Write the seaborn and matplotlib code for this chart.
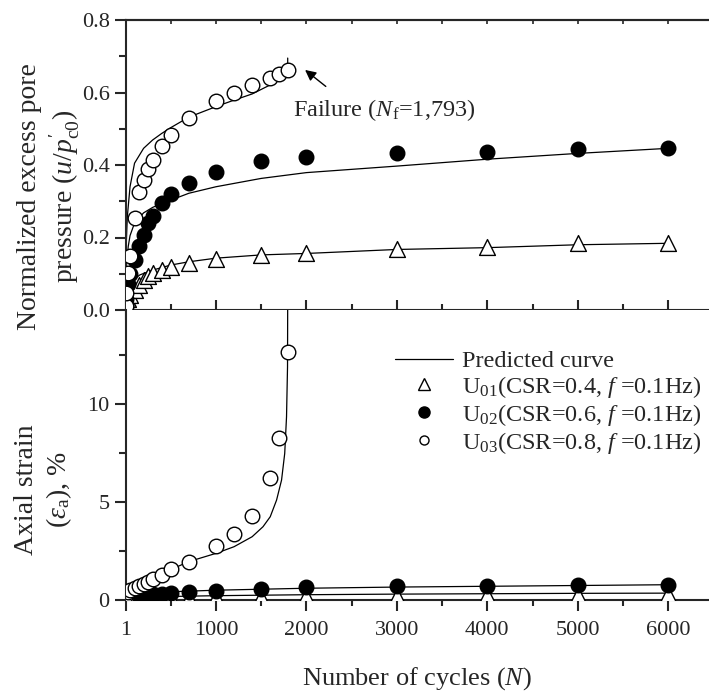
import matplotlib
matplotlib.use("Agg")
import matplotlib.pyplot as plt
import seaborn as sns
from matplotlib.lines import Line2D
from matplotlib.ticker import MultipleLocator, FixedLocator

# ---------------- data ----------------
n_u01 = [1, 10, 30, 50, 100, 150, 200, 250, 300, 400, 500, 700, 1000, 1500, 2000, 3000, 4000, 5000, 6000]
pp_u01 = [0.005, 0.015, 0.03, 0.041, 0.055, 0.069, 0.083, 0.094, 0.101, 0.110, 0.120, 0.129, 0.142,
          0.151, 0.156, 0.167, 0.175, 0.184, 0.186]
ea_u01 = [0.0, 0.01, 0.02, 0.03, 0.04, 0.05, 0.06, 0.07, 0.08, 0.09, 0.10, 0.12, 0.14, 0.17, 0.19,
          0.22, 0.25, 0.27, 0.29]

n_u02 = [1, 10, 30, 50, 100, 150, 200, 250, 300, 400, 500, 700, 1000, 1500, 2000, 3000, 4000, 5000, 6000]
pp_u02 = [0.01, 0.03, 0.072, 0.10, 0.138, 0.177, 0.207, 0.241, 0.259, 0.296, 0.319, 0.351, 0.382,
          0.412, 0.423, 0.434, 0.437, 0.444, 0.448]
ea_u02 = [0.01, 0.04, 0.08, 0.12, 0.18, 0.22, 0.25, 0.28, 0.30, 0.32, 0.34, 0.43, 0.47, 0.58, 0.65,
          0.71, 0.74, 0.77, 0.77]

n_u03 = [1, 10, 30, 50, 100, 150, 200, 250, 300, 400, 500, 700, 1000, 1200, 1400, 1600, 1700, 1793]
pp_u03 = [0.01, 0.048, 0.101, 0.149, 0.253, 0.326, 0.359, 0.389, 0.414, 0.452, 0.483, 0.530, 0.577,
          0.600, 0.621, 0.639, 0.651, 0.662]
ea_u03 = [0.05, 0.25, 0.40, 0.51, 0.63, 0.71, 0.82, 0.93, 1.08, 1.30, 1.56, 1.96, 2.76, 3.37, 4.29,
          6.21, 8.28, 12.64]

# predicted curves
pn_pp_u01 = [1, 10, 34, 86, 160, 300, 500, 700, 1000, 1500, 2000, 3000, 4000, 5000, 6000]
pv_pp_u01 = [0.0, 0.03, 0.055, 0.083, 0.097, 0.110, 0.124, 0.133, 0.143, 0.152, 0.156, 0.167, 0.172,
             0.180, 0.184]
pn_pp_u02 = [1, 5, 10, 30, 50, 100, 200, 300, 400, 500, 700, 1000, 1500, 2000, 3000, 4000, 5000, 6000]
pv_pp_u02 = [0.0, 0.08, 0.12, 0.175, 0.205, 0.24, 0.268, 0.283, 0.294, 0.303, 0.322, 0.340, 0.363,
             0.379, 0.397, 0.416, 0.432, 0.446]
pn_pp_u03 = [1, 3, 8, 20, 50, 100, 200, 300, 400, 500, 700, 1000, 1200, 1400, 1600, 1700, 1793, 1793]
pv_pp_u03 = [0.0, 0.10, 0.18, 0.257, 0.34, 0.405, 0.446, 0.469, 0.487, 0.503, 0.532, 0.561, 0.579,
             0.596, 0.621, 0.634, 0.648, 0.695]

pn_ea_u01 = [1, 10, 100, 200, 500, 1000, 2000, 3000, 4000, 5000, 6000]
pv_ea_u01 = [0.0, 0.04, 0.10, 0.13, 0.18, 0.22, 0.27, 0.30, 0.32, 0.34, 0.35]
pn_ea_u02 = [1, 10, 50, 100, 200, 500, 1000, 2000, 3000, 4000, 5000, 6000]
pv_ea_u02 = [0.0, 0.10, 0.20, 0.26, 0.33, 0.42, 0.50, 0.60, 0.66, 0.70, 0.74, 0.78]
pn_ea_u03 = [1, 10, 50, 100, 200, 300, 500, 700, 1000, 1200, 1400, 1520, 1600, 1670, 1725, 1760,
             1780, 1791, 1793]
pv_ea_u03 = [0.1, 0.35, 0.65, 0.85, 1.1, 1.28, 1.55, 1.96, 2.38, 2.72, 3.23, 3.74, 4.25, 5.1, 6.12,
             7.48, 9.35, 11.9, 15.5]

x_major = [1, 1000, 2000, 3000, 4000, 5000, 6000]
x_labels = ["1", "1000", "2000", "3000", "4000", "5000", "6000"]
x_minor = [500, 1500, 2500, 3500, 4500, 5500]

legend_labels = ["Predicted curve",
                 r"U$_{\mathrm{01}}$(CSR=0.4, $f$ =0.1Hz)",
                 r"U$_{\mathrm{02}}$(CSR=0.6, $f$ =0.1Hz)",
                 r"U$_{\mathrm{03}}$(CSR=0.8, $f$ =0.1Hz)"]

# ---------------- style ----------------
sns.set_style("ticks")
plt.rcParams["font.family"] = ["Liberation Serif", "DejaVu Serif"]
plt.rcParams["mathtext.fontset"] = "custom"
plt.rcParams["mathtext.rm"] = "Liberation Serif"
plt.rcParams["mathtext.it"] = "Liberation Serif:italic"
plt.rcParams["mathtext.bf"] = "Liberation Serif:bold"
plt.rcParams["axes.linewidth"] = 1.5

fig = plt.figure(figsize=(7.09, 6.95), dpi=100)
L = 125.5 / 709
W = 1.0 - L
H = 290 / 695
ax1 = fig.add_axes([L, 1 - 310 / 695, W, H])
ax2 = fig.add_axes([L, 1 - 600 / 695, W, H])

XMAX = 6450
LW = 0.9
MS_C = 110
MS_T = 130


def draw(ax, curves, pts):
    for xs, ys in curves:
        sns.lineplot(x=xs, y=ys, ax=ax, color="black", lw=LW, sort=False, estimator=None,
                     legend=False, zorder=2)
    for xs, ys, mk, fc, s in pts:
        sns.scatterplot(x=xs, y=ys, ax=ax, marker=mk, s=s, facecolor=fc, edgecolor="black",
                        linewidth=1.0, legend=False, zorder=3)


draw(ax1,
     [(pn_pp_u01, pv_pp_u01), (pn_pp_u02, pv_pp_u02), (pn_pp_u03, pv_pp_u03)],
     [(n_u01, pp_u01, "^", "white", MS_T), (n_u02, pp_u02, "o", "black", MS_C),
      (n_u03, pp_u03, "o", "white", MS_C)])
draw(ax2,
     [(pn_ea_u01, pv_ea_u01), (pn_ea_u02, pv_ea_u02), (pn_ea_u03, pv_ea_u03)],
     [(n_u01, ea_u01, "^", "white", MS_T), (n_u02, ea_u02, "o", "black", MS_C),
      (n_u03, ea_u03, "o", "white", MS_C)])

for ax in (ax1, ax2):
    ax.set_xlim(0, XMAX)
    ax.xaxis.set_major_locator(FixedLocator(x_major))
    ax.xaxis.set_minor_locator(FixedLocator(x_minor))
    ax.spines["right"].set_visible(False)
    ax.tick_params(axis="y", which="major", direction="out", length=8, width=1.5, labelsize=16,
                   left=True, right=False)
    ax.tick_params(axis="y", which="minor", direction="out", length=5, width=1.5, left=True,
                   right=False)
    ax.set_xlabel("")

ax1.set_ylim(0, 0.8)
ax1.yaxis.set_major_locator(MultipleLocator(0.2))
ax1.yaxis.set_minor_locator(MultipleLocator(0.1))
ax1.set_yticks([0.0, 0.2, 0.4, 0.6, 0.8])
ax1.set_yticklabels(["0.0", "0.2", "0.4", "0.6", "0.8"])
ax1.tick_params(axis="x", which="major", direction="inout", length=15, width=1.5,
                labelbottom=False, top=False)
ax1.tick_params(axis="x", which="minor", direction="inout", length=9, width=1.5, top=False)
sec = ax1.secondary_xaxis("top")
sec.xaxis.set_major_locator(FixedLocator(x_major[1:]))
sec.xaxis.set_minor_locator(FixedLocator(x_minor))
sec.tick_params(axis="x", which="both", direction="in", length=3, width=1.2, labeltop=False)

ax2.set_ylim(0, 14.8)
ax2.yaxis.set_major_locator(FixedLocator([0, 5, 10]))
ax2.yaxis.set_minor_locator(FixedLocator([2.5, 7.5, 12.5]))
ax2.set_xticklabels(x_labels)
ax2.tick_params(axis="x", which="major", direction="out", length=8, width=1.5, labelsize=16,
                pad=7, top=False)
ax2.tick_params(axis="x", which="minor", direction="out", length=4, width=1.5, top=False)
ax2.spines["top"].set_visible(False)

ax1.set_ylabel("Normalized excess pore\npressure ($u/p_{\\mathrm{c0}}^{\\prime}$)", fontsize=20,
               va="center", linespacing=1.25)
ax1.yaxis.set_label_coords(-0.13, 0.39)
ax2.set_ylabel("Axial strain\n($\\varepsilon_{\\mathrm{a}}$), %", fontsize=20, va="center",
               linespacing=1.25)
ax2.yaxis.set_label_coords(-0.14, 0.38)
ax2.set_xlabel("Number of cycles ($N$)", fontsize=19, labelpad=18)

# failure annotation
ax1.annotate("", xy=(1961, 0.667), xytext=(2238, 0.612),
             arrowprops=dict(arrowstyle="-|>", color="black", lw=1.0, mutation_scale=16))
ax1.text(1850, 0.552, "Failure ($N_{\\mathrm{f}}$=1,793)", fontsize=17.5, ha="left", va="center")

# legend
handles = [Line2D([], [], color="black", lw=LW),
           Line2D([], [], ls="none", marker="^", mfc="white", mec="black", ms=9, mew=1.0),
           Line2D([], [], ls="none", marker="o", mfc="black", mec="black", ms=8, mew=1.0),
           Line2D([], [], ls="none", marker="o", mfc="white", mec="black", ms=6.5, mew=1.0)]
ax2.legend(handles, legend_labels, loc="upper left", bbox_to_anchor=((395 - 125.5) / 583.5, 0.862),
           frameon=False, fontsize=17.5, handlelength=2.4, handletextpad=0.35, borderpad=0,
           borderaxespad=0, labelspacing=0.08)

fig.savefig("out.png", dpi=100)
